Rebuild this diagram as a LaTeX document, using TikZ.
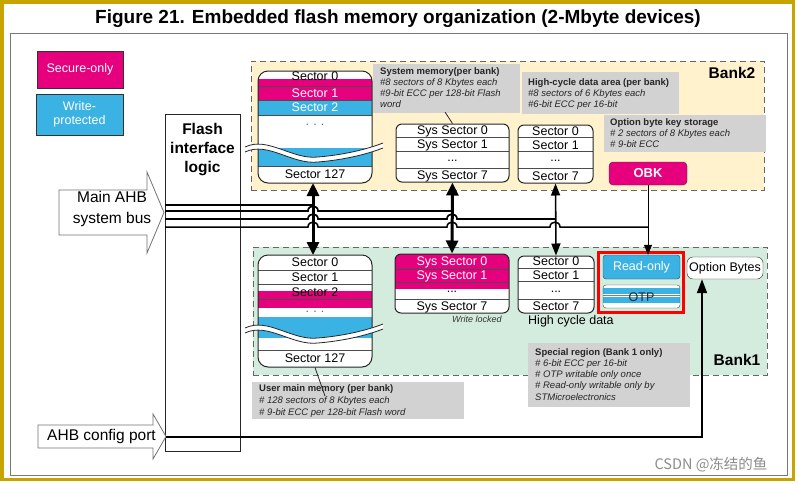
\documentclass[tikz,border=0pt]{standalone}
\usepackage{fontspec}
\setmainfont{Liberation Sans}
\newfontfamily\cjkfont{Noto Sans CJK SC}
\usetikzlibrary{arrows.meta}
\definecolor{mag}{RGB}{230,0,126}
\definecolor{wpblue}{RGB}{58,178,228}
\definecolor{banktwo}{RGB}{255,242,204}
\definecolor{bankone}{RGB}{212,236,222}
\definecolor{annot}{RGB}{210,210,210}
\definecolor{gold}{RGB}{200,164,0}
\definecolor{framegray}{RGB}{120,120,120}
\begin{document}
\begin{tikzpicture}[x=1pt,y=-1pt,
  lab/.style={inner sep=0pt, font=\fontsize{12.5}{14}\selectfont},
  wlab/.style={lab, text=white},
  annotbg/.style={fill=annot, draw=none, inner sep=0pt},
  annottxt/.style={inner sep=0pt, anchor=north west, align=left, text=black!85, font=\fontsize{9.5}{11.3}\selectfont},
  rowl/.style={draw=black!70, line width=0.6pt},
  blkborder/.style={draw=black!85, line width=1pt, inner sep=0pt},
  bankbox/.style={draw=black!60, line width=1pt, dash pattern=on 6pt off 4pt, inner sep=0pt},
  arrowout/.style={draw=black!55, fill=white, line width=0.8pt},
  busline/.style={line width=1.7pt, black},
  bigarrow/.style={line width=3pt, {Triangle[length=13pt,width=12pt]}-{Triangle[length=13pt,width=12pt]}},
  midarrow/.style={line width=1.6pt, {Triangle[length=12pt,width=9pt]}-{Triangle[length=12pt,width=9pt]}},
  wavefill/.style={fill=white, draw=none},
  waveline/.style={draw=black!85, line width=0.8pt}
]
\useasboundingbox (0,0) rectangle (798,483);
\fill[white] (0,0) rectangle (798,483);
\draw[gold, line width=3.5pt] (1.75,1.75) rectangle (793.5,479.5);
\draw[framegray, line width=1pt] (10,33) rectangle (787,475);

\node[font=\bfseries\fontsize{19}{22}\selectfont, inner sep=0pt] (title) at (398,19) {Figure 21. Embedded flash memory organization (2-Mbyte devices)};

% legend
\node[draw=black!80, fill=mag, minimum width=86pt, minimum height=37pt, inner sep=0pt, text=white, font=\fontsize{12.5}{14}\selectfont] (leg1) at (80,69.5) {Secure-only};
\node[draw=black!80, fill=wpblue, minimum width=87pt, minimum height=41pt, inner sep=0pt, text=white, align=center, font=\fontsize{12.5}{14}\selectfont] (leg2) at (79.5,114.5) {Write-\\protected};

% banks
\node[bankbox, fill=banktwo, minimum width=513pt, minimum height=129pt] (bank2) at (507.5,125.5) {};
\node[bankbox, fill=bankone, minimum width=514pt, minimum height=128pt] (bank1) at (510,311) {};
\node[font=\bfseries\fontsize{15.5}{18}\selectfont, inner sep=0pt] (bank2lab) at (732,73) {Bank2};
\node[font=\bfseries\fontsize{15.5}{18}\selectfont, inner sep=0pt] (bank1lab) at (737,360) {Bank1};

% flash interface logic
\node[draw=black!85, line width=0.9pt, minimum width=75pt, minimum height=337pt, inner sep=0pt] (fil) at (202.5,282.5) {};
\node[font=\bfseries\fontsize{15.5}{19}\selectfont, align=center, inner sep=0pt] (filtext) at (202.5,150) {Flash\\interface\\logic};

% input arrows
\draw[arrowout] (59,190) -- (147,190) -- (147,172) -- (164,212.5) -- (147,253) -- (147,235) -- (59,235) -- cycle;
\node[font=\fontsize{15.5}{21}\selectfont, align=center, inner sep=0pt] (mainahb) at (112,208.5) {Main AHB\\system bus};
\draw[arrowout] (38,425) -- (153,425) -- (153,414) -- (166,436.5) -- (153,459) -- (153,448) -- (38,448) -- cycle;
\node[font=\fontsize{15.5}{18}\selectfont, inner sep=0pt] (cfgtext) at (101.5,436) {AHB config port};

% ===== Bank2 main memory =====
\begin{scope}
\clip[rounded corners=10pt] (258,71) rectangle (372,183);
\fill[white] (258,71) rectangle (372,183);
\fill[mag] (258,79) rectangle (372,100);
\fill[wpblue] (258,100) rectangle (372,115);
\fill[wpblue] (258,148) rectangle (372,166);
\draw[rowl] (258,86) -- (372,86);
\draw[rowl] (258,100) -- (372,100);
\draw[rowl] (258,115) -- (372,115);
\draw[rowl] (258,166) -- (372,166);
\end{scope}
\node[blkborder, rounded corners=10pt, minimum width=114pt, minimum height=112pt] (m2) at (315,127) {};
\fill[wavefill] (245,147) .. controls (268,136) and (292,160) .. (318,157) .. controls (342,155) and (365,150) .. (383,143)
  -- (383,148) .. controls (365,155) and (342,160) .. (318,162) .. controls (292,165) and (268,141) .. (245,152) -- cycle;
\draw[waveline] (245,147) .. controls (268,136) and (292,160) .. (318,157) .. controls (342,155) and (365,150) .. (383,143);
\draw[waveline] (245,152) .. controls (268,141) and (292,165) .. (318,162) .. controls (342,160) and (365,155) .. (383,148);
\node[lab] (m2s0) at (315,76) {Sector 0};
\node[wlab] (m2s1) at (315,93) {Sector 1};
\node[wlab] (m2s2) at (315,107.5) {Sector 2};
\node[lab, text=black!60] (m2dots) at (315,125) {.\,\,.\,\,.};
\node[lab] (m2s127) at (315,174.5) {Sector 127};

% ===== Bank1 main memory =====
\begin{scope}
\clip[rounded corners=10pt] (258,255) rectangle (372,367);
\fill[white] (258,255) rectangle (372,367);
\fill[mag] (258,291) rectangle (372,308);
\fill[wpblue] (258,317) rectangle (372,338);
\draw[rowl] (258,270) -- (372,270);
\draw[rowl] (258,284) -- (372,284);
\draw[rowl] (258,299) -- (372,299);
\draw[rowl] (258,350) -- (372,350);
\end{scope}
\node[blkborder, rounded corners=10pt, minimum width=114pt, minimum height=112pt] (m1) at (315,311) {};
\begin{scope}[shift={(0,181)}]
\fill[wavefill] (245,147) .. controls (268,136) and (292,160) .. (318,157) .. controls (342,155) and (365,150) .. (383,143)
  -- (383,148) .. controls (365,155) and (342,160) .. (318,162) .. controls (292,165) and (268,141) .. (245,152) -- cycle;
\draw[waveline] (245,147) .. controls (268,136) and (292,160) .. (318,157) .. controls (342,155) and (365,150) .. (383,143);
\draw[waveline] (245,152) .. controls (268,141) and (292,165) .. (318,162) .. controls (342,160) and (365,155) .. (383,148);
\end{scope}
\node[lab] (m1s0) at (315,262) {Sector 0};
\node[lab] (m1s1) at (315,277) {Sector 1};
\node[lab] (m1s2) at (315,292) {Sector 2};
\node[lab, text=black!60] (m1dots) at (315,311.5) {.\,\,.\,\,.};
\node[lab] (m1s127) at (315,358.5) {Sector 127};

% ===== Sys memory Bank2 =====
\begin{scope}
\clip[rounded corners=6pt] (396,124) rectangle (509,182);
\fill[white] (396,124) rectangle (509,182);
\draw[rowl] (396,137) -- (509,137);
\draw[rowl] (396,151) -- (509,151);
\draw[rowl] (396,168) -- (509,168);
\end{scope}
\node[blkborder, rounded corners=6pt, minimum width=113pt, minimum height=58pt] (sys2) at (452.5,153) {};
\node[lab] (sys2s0) at (452.5,131.5) {Sys Sector 0};
\node[lab] (sys2s1) at (452.5,145.5) {Sys Sector 1};
\node[lab] (sys2d) at (452.5,161) {...};
\node[lab] (sys2s7) at (452.5,176) {Sys Sector 7};

% ===== Sys memory Bank1 =====
\begin{scope}
\clip[rounded corners=6pt] (395,254) rectangle (509,313);
\fill[white] (395,254) rectangle (509,313);
\fill[mag] (395,254) rectangle (509,289);
\draw[rowl] (395,269) -- (509,269);
\draw[rowl] (395,282) -- (509,282);
\draw[rowl] (395,299) -- (509,299);
\end{scope}
\node[blkborder, rounded corners=6pt, minimum width=114pt, minimum height=59pt] (sys1) at (452,283.5) {};
\node[wlab] (sys1s0) at (452,262) {Sys Sector 0};
\node[wlab] (sys1s1) at (452,276) {Sys Sector 1};
\node[lab] (sys1d) at (452,292) {...};
\node[lab] (sys1s7) at (452,307) {Sys Sector 7};
\node[inner sep=0pt, font=\itshape\fontsize{9}{11}\selectfont, text=black!80] (wl) at (477,319.5) {Write locked};

% ===== High-cycle Bank2 =====
\begin{scope}
\clip[rounded corners=6pt] (518,125) rectangle (593,183);
\fill[white] (518,125) rectangle (593,183);
\draw[rowl] (518,137) -- (593,137);
\draw[rowl] (518,151) -- (593,151);
\draw[rowl] (518,168) -- (593,168);
\end{scope}
\node[blkborder, rounded corners=6pt, minimum width=75pt, minimum height=58pt] (hc2) at (555.5,154) {};
\node[lab] (hc2s0) at (555.5,131) {Sector 0};
\node[lab] (hc2s1) at (555.5,145.5) {Sector 1};
\node[lab] (hc2d) at (555.5,161) {...};
\node[lab] (hc2s7) at (555.5,176) {Sector 7};

% ===== High-cycle Bank1 =====
\begin{scope}
\clip[rounded corners=6pt] (518,256) rectangle (594,313);
\fill[white] (518,256) rectangle (594,313);
\draw[rowl] (518,268) -- (594,268);
\draw[rowl] (518,281) -- (594,281);
\draw[rowl] (518,299) -- (594,299);
\end{scope}
\node[blkborder, rounded corners=6pt, minimum width=76pt, minimum height=57pt] (hc1) at (556,284.5) {};
\node[lab] (hc1s0) at (556,261.5) {Sector 0};
\node[lab] (hc1s1) at (556,275.5) {Sector 1};
\node[lab] (hc1d) at (556,292) {...};
\node[lab] (hc1s7) at (556,306.5) {Sector 7};
\node[lab, anchor=west] (hcdata) at (528,321.5) {High cycle data};

% ===== OBK, Read-only, OTP, Option bytes =====
\node[draw=black!80, fill=mag, rounded corners=4pt, minimum width=78pt, minimum height=23pt, inner sep=0pt, text=white, font=\bfseries\fontsize{13}{15}\selectfont] (obk) at (648,173.5) {OBK};
\node[draw=red, line width=3pt, minimum width=85pt, minimum height=60pt, inner sep=0pt] (redbox) at (640.5,282) {};
\node[draw=black!75, fill=wpblue, rounded corners=3pt, minimum width=77pt, minimum height=24pt, inner sep=0pt, text=white, font=\fontsize{12.5}{14}\selectfont] (ro) at (641.5,267) {Read-only};
\begin{scope}
\clip[rounded corners=3pt] (603,285) rectangle (680,308);
\fill[white] (603,285) rectangle (680,308);
\fill[wpblue] (603,288) rectangle (680,294);
\fill[wpblue] (603,297) rectangle (680,303);
\draw[draw=black!50, line width=0.5pt] (603,295.5) -- (680,295.5);
\end{scope}
\node[draw=black!75, rounded corners=3pt, minimum width=77pt, minimum height=23pt, inner sep=0pt] (otp) at (641.5,296.5) {};
\node[lab, text=black!85] (otptext) at (641.5,297) {OTP};
\node[draw=black!85, fill=white, rounded corners=6pt, minimum width=76pt, minimum height=22pt, inner sep=0pt, font=\fontsize{12.5}{14}\selectfont] (ob) at (725,268) {Option Bytes};

% ===== Annotations =====
\node[annotbg, minimum width=147pt, minimum height=49pt] (nb1) at (446.5,88.5) {};
\node[annottxt] (nt1) at (380,67) {\textbf{System memory(per bank)}\\\textit{\#8 sectors of 8 Kbytes each}\\\textit{\#9-bit ECC per 128-bit Flash}\\\textit{word}};
\node[annotbg, minimum width=157pt, minimum height=42pt] (nb2) at (600.5,93) {};
\node[annottxt] (nt2) at (528,78) {\textbf{High-cycle data area (per bank)}\\\textit{\#8 sectors of 6 Kbytes each}\\\textit{\#6-bit ECC per 16-bit}};
\node[annotbg, minimum width=162pt, minimum height=37pt] (nb3) at (685,133.5) {};
\node[annottxt] (nt3) at (610,118) {\textbf{Option byte key storage}\\\textit{\# 2 sectors of 8 Kbytes each}\\\textit{\# 9-bit ECC}};
\node[annotbg, minimum width=212pt, minimum height=37pt] (nb4) at (358,400.5) {};
\node[annottxt, font=\fontsize{9.5}{12}\selectfont] (nt4) at (259,384) {\textbf{User main memory (per bank)}\\\textit{\# 128 sectors of 8 Kbytes each}\\\textit{\# 9-bit ECC per 128-bit Flash word}};
\node[annotbg, minimum width=162pt, minimum height=64pt] (nb5) at (609,375) {};
\node[annottxt] (nt5) at (535,348) {\textbf{Special region (Bank 1 only)}\\\textit{\# 6-bit ECC per 16-bit}\\\textit{\# OTP writable only once}\\\textit{\# Read-only writable only by}\\\textit{STMicroelectronics}};

% pointer lines
\coordinate (p4) at (325,396);
\draw[black!85, line width=0.8pt] (m1.south) -- (p4);
\coordinate (p1) at (445,112);
\draw[black!85, line width=0.8pt] (p1) -- (sys2.north);

% ===== Bus lines =====
\coordinate (b1) at (165,205);
\coordinate (b2) at (165,211);
\coordinate (b3) at (165,219);
\coordinate (b4) at (165,227);
\draw[busline, line width=2.3pt] (b1) -- (313,205);
\draw[busline] (b2) -- (308,211) .. controls (308,204.5) and (318,204.5) .. (318,211) -- (452,211);
\draw[busline] (b3) -- (308,219) .. controls (308,212.5) and (318,212.5) .. (318,219) -- (447,219) .. controls (447,212.5) and (457,212.5) .. (457,219) -- (555,219);
\draw[busline, line width=1.5pt] (b4) -- (308,227) .. controls (308,220.5) and (318,220.5) .. (318,227) -- (447,227) .. controls (447,220.5) and (457,220.5) .. (457,227) -- (550,227) .. controls (550,220.5) and (560,220.5) .. (560,227) -- (648,227);

% vertical arrows
\draw[bigarrow] (313,183) -- (313,255);
\draw[bigarrow] (sys2.south) -- (sys1.north);
\draw[midarrow] (hc2.south) -- (hc1.north);
\draw[line width=1pt, -{Triangle[length=10pt,width=8pt]}] (obk.south) -- (obk.south |- ro.north);

% config port line
\coordinate (cfgtip) at (166,437);
\coordinate (cfgcorner) at (702,437);
\draw[line width=2pt, -{Triangle[length=14pt,width=10pt]}] (cfgtip) -- (cfgcorner) -- (cfgcorner |- ob.south);

% watermark
\node[inner sep=0pt, text=black!45, font=\cjkfont\fontsize{14.5}{16}\selectfont] (wm) at (711,465) {CSDN @冻结的鱼};
\end{tikzpicture}
\end{document}
